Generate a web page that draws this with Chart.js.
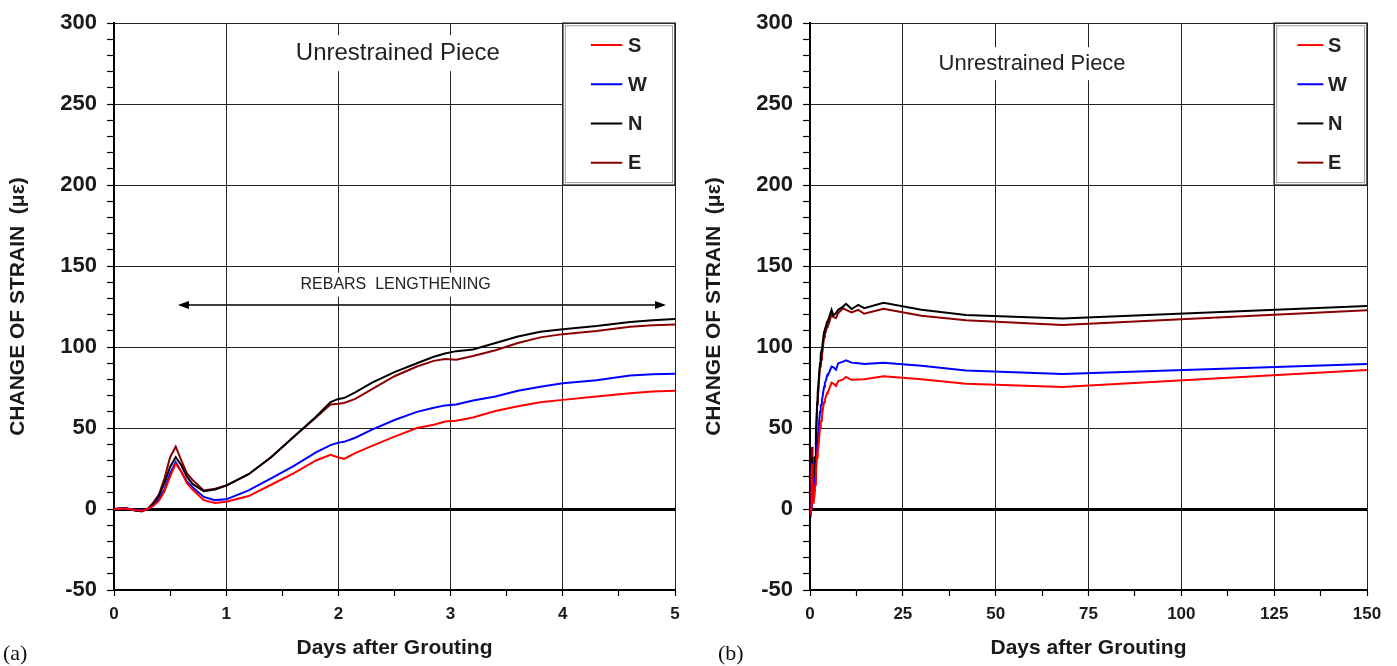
<!DOCTYPE html>
<html>
<head>
<meta charset="utf-8">
<script src="https://cdn.jsdelivr.net/npm/chart.js@4/dist/chart.umd.min.js"></script>
<style>
  body { margin: 0; background: #fff; }
  #wrap { position: relative; width: 1397px; height: 666px; }
  canvas { position: absolute; top: 0; }
</style>
</head>
<body>
<div id="wrap">
  <canvas id="early" width="700" height="666" style="left:0"></canvas>
  <canvas id="late" width="701" height="666" style="left:696px"></canvas>
</div>
<script>
// gauge series, first five days
var days = [0, 0.1, 0.2, 0.25, 0.3, 0.35, 0.4, 0.45, 0.5, 0.55, 0.6, 0.65, 0.7, 0.8, 0.9, 1.0,
    1.2, 1.4, 1.6, 1.8, 1.93, 2.0, 2.05, 2.15, 2.3, 2.5, 2.7, 2.85, 2.95, 3.05, 3.2, 3.4,
    3.6, 3.8, 4.0, 4.3, 4.6, 4.8, 5.0];
var south = [0, 0.3, -0.8, -1, 0, 2, 5, 11, 20, 28, 23, 16, 12, 5.5, 3.8, 4.5,
    8, 15, 22, 30, 33.5, 31.8, 31, 34.5, 39, 44.7, 50, 52, 54, 54.5, 56.5, 60.5,
    63.5, 66, 67.4, 69.5, 71.5, 72.5, 73];
var west = [0, 0.5, -0.5, -1, 0, 2, 6, 12, 22, 29, 23, 17, 13.5, 7.5, 5.5, 6,
    11.5, 19, 26.5, 35, 39.5, 41, 41.5, 44, 49, 55, 60, 62.5, 64, 64.5, 67, 69.5,
    73, 75.5, 77.7, 79.5, 82.5, 83.3, 83.5];
var north = [0, 0.5, -1, -1, 0, 3, 8, 16, 26, 32, 27, 20, 15.5, 11, 12, 14.5,
    21.5, 32, 44.5, 57, 66, 68, 68.5, 72, 78, 84.5, 90, 94, 96, 97.5, 98.5, 102.5,
    106.5, 109.5, 111, 113, 115.5, 116.5, 117.3];
var east = [0, 0.5, -1, -1.5, 0, 4, 9, 19, 32, 38.5, 30, 22, 18, 11.5, 12.5, 14.5,
    21.5, 32, 44.5, 56.5, 64.5, 65, 65.5, 68, 74, 82, 88, 91.5, 92.6, 92.2, 94.5, 98,
    102.5, 106, 108, 110, 112.5, 113.5, 114];

// readings after day 5
var daysLong = [5.8, 6.3, 7, 7.6, 8.9, 9.7, 11.2, 13, 14.6, 19.8, 30, 42, 68, 150];
var southLong = [78, 77.5, 76, 79, 80, 81.6, 79.8, 80, 80.2, 82, 80.2, 77.3, 75.3, 85.9];
var westLong = [88, 87.5, 86, 90, 91, 91.8, 90.4, 90, 89.5, 90.4, 88.4, 85.5, 83.4, 89.6];
var northLong = [123, 119.5, 121, 123, 125, 126.7, 123.5, 126, 124, 127.3, 123, 119.8, 117.7, 125.3];
var eastLong = [120, 118.5, 118, 121, 124, 123, 121.4, 123, 120.6, 123.6, 119.4, 116.5, 113.6, 122.8];

var gauges = ['S', 'W', 'N', 'E'];
var colors = ['#ff0000', '#0000ff', '#000000', '#8b0000'];

Chart.defaults.font.family = '"Liberation Sans", Arial, sans-serif';
Chart.defaults.color = '#1a1a1a';

function pts(xs, ys) {
    return xs.map(function (d, i) { return { x: d, y: ys[i] }; });
}

function makeSets(seriesList, xs) {
    return seriesList.map(function (ys, i) {
        return {
            label: gauges[i],
            data: pts(xs, ys),
            borderColor: colors[i],
            borderWidth: 2,
            pointRadius: 0,
            fill: false,
            tension: 0
        };
    });
}

// text boxes, arrow, legend box and panel tag
var extras = {
    id: 'extras',
    afterDraw: function (chart, args, opts) {
        var ctx = chart.ctx, x = chart.scales.x, y = chart.scales.y;
        ctx.save();

        (opts.notes || []).forEach(function (n) {
            ctx.font = n.size + 'px "Liberation Sans", Arial, sans-serif';
            var px = x.getPixelForValue(n.x), py = y.getPixelForValue(n.y);
            var w = ctx.measureText(n.text).width;
            ctx.fillStyle = '#fff';
            ctx.fillRect(px - w / 2 - 8, py - n.size * 0.75, w + 16, n.size * 1.5);
            ctx.fillStyle = '#222';
            ctx.textAlign = 'center';
            ctx.textBaseline = 'middle';
            ctx.fillText(n.text, px, py);
        });

        if (opts.arrow) {
            var a = opts.arrow;
            var x0 = x.getPixelForValue(a.from), x1 = x.getPixelForValue(a.to);
            var ay = y.getPixelForValue(a.y);
            ctx.strokeStyle = '#000';
            ctx.fillStyle = '#000';
            ctx.lineWidth = 1.5;
            ctx.beginPath();
            ctx.moveTo(x0 + 6, ay);
            ctx.lineTo(x1 - 6, ay);
            ctx.stroke();
            [[x0, 1], [x1, -1]].forEach(function (h) {
                ctx.beginPath();
                ctx.moveTo(h[0], ay);
                ctx.lineTo(h[0] + h[1] * 11, ay - 4);
                ctx.lineTo(h[0] + h[1] * 11, ay + 4);
                ctx.closePath();
                ctx.fill();
            });
        }

        if (opts.box) {
            var b = opts.box;
            var l = x.getPixelForValue(b.x0), r = x.getPixelForValue(b.x1);
            var t = y.getPixelForValue(b.y1), btm = y.getPixelForValue(b.y0);
            var w2 = r - l, h2 = btm - t;
            ctx.fillStyle = '#fff';
            ctx.fillRect(l, t, w2, h2);
            ctx.lineWidth = 1.5;
            ctx.strokeStyle = '#222';
            ctx.strokeRect(l, t, w2, h2);
            ctx.lineWidth = 1;
            ctx.strokeStyle = '#999';
            ctx.strokeRect(l + 2.5, t + 2.5, w2 - 5, h2 - 5);
            ctx.font = 'bold ' + b.size + 'px "Liberation Sans", Arial, sans-serif';
            ctx.textAlign = 'left';
            ctx.textBaseline = 'middle';
            chart.data.datasets.forEach(function (ds, i) {
                var ry = t + h2 * (0.135 + i * 0.242);
                ctx.strokeStyle = ds.borderColor;
                ctx.lineWidth = 2;
                ctx.beginPath();
                ctx.moveTo(l + w2 * 0.25, ry);
                ctx.lineTo(l + w2 * 0.53, ry);
                ctx.stroke();
                ctx.fillStyle = '#222';
                ctx.fillText(ds.label, l + w2 * 0.58, ry + 1);
            });
        }

        if (opts.tag) {
            ctx.font = '22px "Liberation Serif", "DejaVu Serif", serif';
            ctx.fillStyle = '#111';
            ctx.textAlign = 'left';
            ctx.textBaseline = 'alphabetic';
            ctx.fillText(opts.tag.text, opts.tag.left, 660);
        }
        ctx.restore();
    }
};

function options(xMax, xStep, xMajor, padRight, plug) {
    return {
        responsive: false,
        maintainAspectRatio: false,
        animation: false,
        layout: { padding: { top: 18, right: padRight, left: 0, bottom: 0 } },
        plugins: { legend: { display: false }, tooltip: { enabled: false }, extras: plug },
        scales: {
            x: {
                type: 'linear',
                min: 0,
                max: xMax,
                afterFit: function (s) { s.height = 76; },
                ticks: {
                    stepSize: xStep,
                    autoSkip: false,
                    maxRotation: 0,
                    padding: 8,
                    font: { size: 17, weight: 'bold' },
                    callback: function (v) { return v % xMajor === 0 ? v : ''; }
                },
                grid: {
                    color: function (c) { return c.tick && c.tick.value % xMajor === 0 ? '#222' : 'rgba(0,0,0,0)'; },
                    lineWidth: 1,
                    tickColor: '#000',
                    tickLength: 6,
                    tickWidth: 1.2
                },
                border: { color: '#000', width: 2 },
                title: {
                    display: true,
                    text: 'Days after Grouting',
                    font: { size: 21, weight: 'bold' },
                    padding: { top: 0, bottom: 5 }
                }
            },
            y: {
                min: -50,
                max: 300,
                afterFit: function (s) { s.width = 114; },
                ticks: {
                    stepSize: 10,
                    autoSkip: false,
                    padding: 10,
                    font: { size: 22, weight: 'bold' },
                    callback: function (v) { return v % 50 === 0 ? v : ''; }
                },
                grid: {
                    color: function (c) {
                        if (!c.tick) return 'rgba(0,0,0,0)';
                        if (c.tick.value === 0) return '#000';
                        return c.tick.value % 50 === 0 ? '#222' : 'rgba(0,0,0,0)';
                    },
                    lineWidth: function (c) { return c.tick && c.tick.value === 0 ? 3 : 1; },
                    tickColor: '#000',
                    tickLength: 7,
                    tickWidth: 1.2
                },
                border: { color: '#000', width: 2 },
                title: {
                    display: true,
                    text: 'CHANGE OF STRAIN  (\u03bc\u03b5)',
                    font: { size: 21, weight: 'bold' },
                    padding: { top: 6, bottom: 0 }
                }
            }
        }
    };
}

new Chart(document.getElementById('early').getContext('2d'), {
    type: 'line',
    data: { datasets: makeSets([south, west, north, east], days) },
    options: options(5, 0.5, 1, 25, {
        notes: [
            { text: 'Unrestrained Piece', x: 2.53, y: 281.5, size: 24 },
            { text: 'REBARS  LENGTHENING', x: 2.51, y: 138.5, size: 16 }
        ],
        arrow: { from: 0.57, to: 4.92, y: 126 },
        box: { x0: 4, x1: 5, y0: 200, y1: 300, size: 20 },
        tag: { text: '(a)', left: 3 }
    }),
    plugins: [extras]
});

new Chart(document.getElementById('late').getContext('2d'), {
    type: 'line',
    data: {
        datasets: makeSets([
            south.concat(southLong),
            west.concat(westLong),
            north.concat(northLong),
            east.concat(eastLong)
        ], days.concat(daysLong))
    },
    options: options(150, 12.5, 25, 30, {
        notes: [
            { text: 'Unrestrained Piece', x: 59.8, y: 275, size: 22 }
        ],
        box: { x0: 125, x1: 150, y0: 200, y1: 300, size: 20 },
        tag: { text: '(b)', left: 22 }
    }),
    plugins: [extras]
});
</script>
</body>
</html>
